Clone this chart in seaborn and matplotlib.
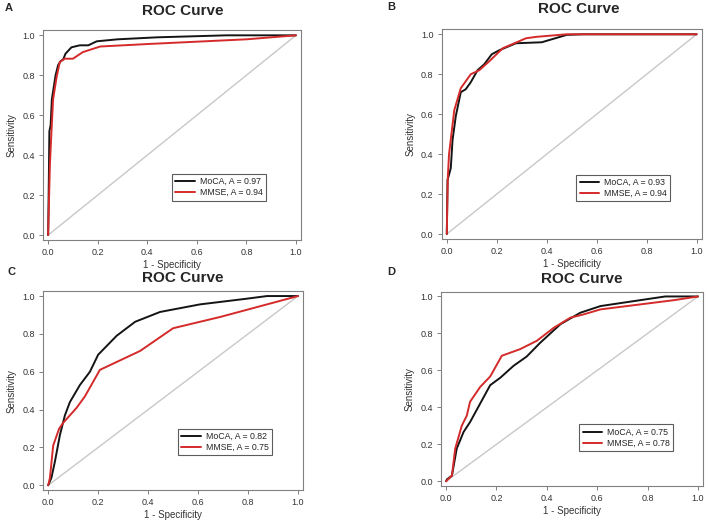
import pandas as pd
import matplotlib.pyplot as plt
import seaborn as sns

# ROC points (1 - specificity, sensitivity)
a_moca_x = [0, 0.003, 0.005, 0.01, 0.015, 0.02, 0.03, 0.04, 0.05, 0.061, 0.07, 0.094, 0.128, 0.162, 0.196, 0.28, 0.44, 0.72, 1.0]
a_moca_y = [0, 0.30, 0.52, 0.55, 0.68, 0.72, 0.80, 0.85, 0.87, 0.88, 0.908, 0.94, 0.95, 0.95, 0.97, 0.98, 0.99, 1.0, 1.0]
a_mmse_x = [0, 0.007, 0.013, 0.02, 0.034, 0.047, 0.067, 0.10, 0.14, 0.21, 0.41, 0.80, 1.0]
a_mmse_y = [0, 0.35, 0.51, 0.68, 0.79, 0.866, 0.883, 0.883, 0.916, 0.944, 0.957, 0.98, 1.0]

b_moca_x = [0, 0.003, 0.016, 0.023, 0.036, 0.056, 0.076, 0.096, 0.123, 0.15, 0.18, 0.21, 0.277, 0.38, 0.48, 0.545, 1.0]
b_moca_y = [0, 0.27, 0.33, 0.47, 0.59, 0.71, 0.725, 0.76, 0.82, 0.85, 0.90, 0.92, 0.955, 0.96, 0.997, 1.0, 1.0]
b_mmse_x = [0, 0.004, 0.009, 0.03, 0.056, 0.096, 0.13, 0.17, 0.224, 0.317, 0.357, 0.48, 1.0]
b_mmse_y = [0, 0.28, 0.40, 0.62, 0.73, 0.80, 0.82, 0.865, 0.93, 0.98, 0.987, 1.0, 1.0]

c_moca_x = [0, 0.013, 0.027, 0.047, 0.067, 0.087, 0.127, 0.167, 0.20, 0.274, 0.348, 0.448, 0.608, 0.795, 0.876, 1.0]
c_moca_y = [0, 0.04, 0.126, 0.266, 0.37, 0.44, 0.53, 0.60, 0.69, 0.79, 0.864, 0.916, 0.956, 0.986, 1.0, 1.0]
c_mmse_x = [0, 0.007, 0.02, 0.044, 0.06, 0.114, 0.147, 0.207, 0.368, 0.50, 0.69, 1.0]
c_mmse_y = [0, 0.04, 0.21, 0.30, 0.33, 0.41, 0.47, 0.61, 0.71, 0.83, 0.89, 1.0]

d_moca_x = [0, 0.003, 0.023, 0.042, 0.069, 0.095, 0.135, 0.175, 0.215, 0.268, 0.32, 0.374, 0.454, 0.533, 0.613, 0.87, 1.0]
d_moca_y = [0, 0.01, 0.03, 0.176, 0.266, 0.32, 0.42, 0.52, 0.56, 0.625, 0.675, 0.75, 0.85, 0.912, 0.948, 1.0, 1.0]
d_mmse_x = [0, 0.023, 0.036, 0.062, 0.082, 0.095, 0.135, 0.175, 0.221, 0.294, 0.36, 0.427, 0.493, 0.546, 0.613, 0.905, 1.0]
d_mmse_y = [0, 0.03, 0.176, 0.30, 0.355, 0.43, 0.51, 0.567, 0.679, 0.715, 0.76, 0.83, 0.885, 0.903, 0.93, 0.98, 1.0]

panel_letters = ["A", "B", "C", "D"]
moca_auc = [0.97, 0.93, 0.82, 0.75]
mmse_auc = [0.94, 0.94, 0.75, 0.78]
ticks = [0.0, 0.2, 0.4, 0.6, 0.8, 1.0]

panels = [
    (a_moca_x, a_moca_y, a_mmse_x, a_mmse_y),
    (b_moca_x, b_moca_y, b_mmse_x, b_mmse_y),
    (c_moca_x, c_moca_y, c_mmse_x, c_mmse_y),
    (d_moca_x, d_moca_y, d_mmse_x, d_mmse_y),
]

sns.set_style("white")
plt.rcParams["font.family"] = ["Liberation Sans", "DejaVu Sans"]

fig = plt.figure(figsize=(7.08, 5.23), dpi=100)

# axes boxes [left, bottom, width, height] in figure fractions
boxes = [
    [0.061, 0.541, 0.364, 0.401],
    [0.624, 0.543, 0.367, 0.401],
    [0.061, 0.063, 0.367, 0.380],
    [0.623, 0.071, 0.370, 0.371],
]
title_pos = [(183, 11), (579, 9), (183, 278), (582, 279)]
letter_pos = [(5, 8), (387, 7), (8, 272), (387, 272)]
legend_anchor = [(0.876, 0.176), (0.89, 0.167), (0.892, 0.161), (0.897, 0.165)]

for i, (mx, my, rx, ry) in enumerate(panels):
    ax = fig.add_axes(boxes[i])
    ax.plot([0, 1], [0, 1], color="#c8c8c8", lw=1.0, zorder=1)
    df = pd.concat([
        pd.DataFrame({"fpr": mx, "tpr": my, "test": f"MoCA, A = {moca_auc[i]:.2f}"}),
        pd.DataFrame({"fpr": rx, "tpr": ry, "test": f"MMSE, A = {mmse_auc[i]:.2f}"}),
    ])
    sns.lineplot(data=df, x="fpr", y="tpr", hue="test", sort=False, estimator=None,
                 palette=["#141414", "#d42a2a"], lw=1.4, ax=ax, zorder=3)
    ax.set_xlim(-0.02, 1.02)
    ax.set_ylim(-0.025, 1.025)
    ax.set_xticks(ticks)
    ax.set_yticks(ticks)
    ax.set_xticklabels([f"{t:.1f}" for t in ticks])
    ax.set_yticklabels([f"{t:.1f}" for t in ticks])
    ax.tick_params(axis="both", labelsize=6.5, colors="#808080", labelcolor="#333333",
                   length=3, width=0.7, direction="out", bottom=True, left=True, pad=3)
    for s in ax.spines.values():
        s.set_color("#808080")
        s.set_linewidth(0.8)
    ax.set_xlabel("1 - Specificity", fontsize=7, color="#333333", labelpad=2)
    ax.set_ylabel("Sensitivity", fontsize=7, color="#333333", labelpad=4)
    leg = ax.legend(loc="lower right", bbox_to_anchor=legend_anchor[i], fontsize=6.3,
                    frameon=True, fancybox=False, handlelength=2.2, borderpad=0.4,
                    labelspacing=0.2, handletextpad=0.6, borderaxespad=0.3, title=None)
    leg.get_frame().set_edgecolor("#333333")
    leg.get_frame().set_linewidth(0.8)
    tx, ty = title_pos[i]
    fig.text(tx / 708, 1 - ty / 523, "ROC Curve", fontsize=11, fontweight="bold",
             ha="center", va="center")
    lx, ly = letter_pos[i]
    fig.text(lx / 708, 1 - ly / 523, panel_letters[i], fontsize=8, fontweight="bold",
             ha="left", va="center")

fig.savefig("out.png", dpi=100)
